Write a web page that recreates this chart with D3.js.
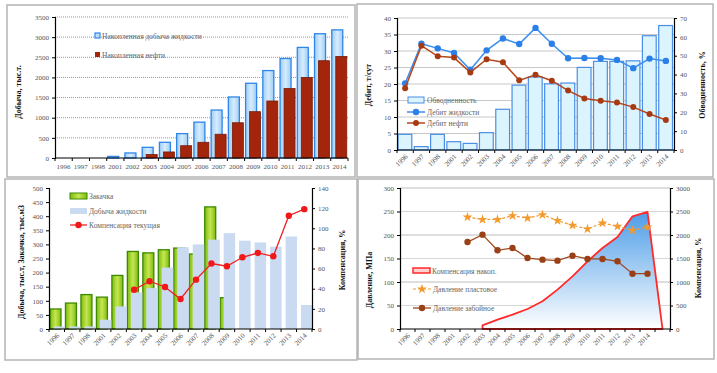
<!DOCTYPE html>
<html>
<head>
<meta charset="utf-8">
<script src="https://cdn.jsdelivr.net/npm/d3@7"></script>
<style>
  body { margin: 0; background: #fff; }
  text { font-family: "Liberation Serif", "DejaVu Serif", serif; }
</style>
</head>
<body>
<script>
var years = ['1996','1997','1998','2001','2002','2003','2004','2005','2006','2007','2008','2009','2010','2011','2012','2013','2014'];
var years4 = years.concat(['']);

// cumulative production, thousand t
var cumLiquid = [0,0,0,40,125,265,390,605,890,1190,1515,1855,2170,2470,2745,3085,3180];
var cumOil = [0,0,0,0,0,85,150,305,390,590,875,1150,1415,1725,2000,2415,2520];

// rates and water cut
var waterCut = [8.3,1.8,8.3,4.4,3.5,9.2,21.6,34.4,38.7,35.1,35.5,43.8,47,47,47.3,60.6,66];
var rateLiquid = [20.2,32.2,30.8,29.4,24.3,30.2,33.8,32.1,37,32.2,27.8,27.9,27.8,27.3,24.8,27.7,27];
var rateOil = [18.7,31.6,28.4,28,23.5,27.5,26.6,21.1,22.8,21,18,15.6,14.9,14.4,13,10.9,9.1];

// injection vs production
var injection = [71,92,122,113,190,275,270,281,287,266,433,111,null,null,null,null,null];
var liquidProd = [9,9,9,33,80,130,145,218,290,300,317,340,313,307,292,328,85];
var compCurrent = [null,null,null,null,null,39,47.4,41.7,29.8,49,65,62.3,71.2,75.5,72.2,112.5,119];

// pressures and cumulative compensation
var compCum = [null,null,null,null,null,78,199,305,425,589,837,1121,1440,1723,1957,2397,2490,0];
var presRes = [null,null,null,null,238,233,233,241,236,243,230.5,220.6,212.8,225.5,218.4,210,217,null];
var presBh = [null,null,null,null,185,200.7,167.4,172.3,151,147.5,145.4,156,149,149,144,117.7,117.7,null];

// keep the category index next to each value
function pts(arr){
  return arr.map(function(v, i){ return {i: i, v: v}; })
    .filter(function(d){ return d.v !== null && d.v > 0; });
}

var svg = d3.select('body').append('svg')
  .attr('width', 717).attr('height', 373);

var defs = svg.append('defs');
var g1 = defs.append('linearGradient').attr('id', 'areaGrad')
  .attr('x1', 0).attr('y1', 0).attr('x2', 0).attr('y2', 1);
g1.append('stop').attr('offset', '0%').attr('stop-color', '#4d9de8');
g1.append('stop').attr('offset', '100%').attr('stop-color', '#ffffff');
var g2 = defs.append('linearGradient').attr('id', 'greenGrad')
  .attr('x1', 0).attr('y1', 0).attr('x2', 1).attr('y2', 0);
g2.append('stop').attr('offset', '0%').attr('stop-color', '#7cbc10');
g2.append('stop').attr('offset', '50%').attr('stop-color', '#c6e650');
g2.append('stop').attr('offset', '100%').attr('stop-color', '#7cbc10');
var g3 = defs.append('linearGradient').attr('id', 'blueGrad')
  .attr('x1', 0).attr('y1', 0).attr('x2', 1).attr('y2', 0);
g3.append('stop').attr('offset', '0%').attr('stop-color', '#9fcdf6');
g3.append('stop').attr('offset', '50%').attr('stop-color', '#d6ecfc');
g3.append('stop').attr('offset', '100%').attr('stop-color', '#9fcdf6');

// panel frames
[[7, 5, 348, 172], [357, 4, 356, 173], [5, 179, 352, 181], [358, 179, 356, 180]].forEach(function(r){
  svg.append('rect')
    .attr('x', r[0]).attr('y', r[1]).attr('width', r[2]).attr('height', r[3])
    .attr('fill', 'none').attr('stroke', '#b4b4b4').attr('stroke-width', 1.5);
});

function yAxis(g, scale, x, step, max, side){
  var ax = (side === 'left' ? d3.axisLeft(scale) : d3.axisRight(scale))
    .tickValues(d3.range(0, max + step / 2, step))
    .tickFormat(d3.format('d'))
    .tickSize(3).tickPadding(3);
  var a = g.append('g').attr('transform', 'translate(' + x + ',0)').call(ax);
  a.select('.domain').attr('stroke', '#000').attr('stroke-width', 1.2);
  a.selectAll('.tick line').attr('stroke', '#000');
  a.selectAll('.tick text').attr('font-size', 7).attr('fill', '#555')
    .attr('font-family', '"Liberation Serif", serif');
  return a;
}

function xAxis(g, x, y0, labels, rotated){
  g.append('line').attr('x1', x.range()[0]).attr('x2', x.range()[1])
    .attr('y1', y0).attr('y2', y0).attr('stroke', '#000').attr('stroke-width', 1.2);
  g.selectAll('.xt').data(x.domain().concat(['end'])).enter().append('line')
    .attr('x1', function(d, i){ return x.range()[0] + i * x.step(); })
    .attr('x2', function(d, i){ return x.range()[0] + i * x.step(); })
    .attr('y1', y0).attr('y2', y0 + 3).attr('stroke', '#000');
  g.selectAll('.xl').data(labels).enter().append('text')
    .attr('font-size', 7).attr('fill', '#555')
    .text(function(d){ return d; })
    .attr('text-anchor', rotated ? 'end' : 'middle')
    .attr('transform', function(d, i){
      var cx = x(x.domain()[i]) + x.bandwidth() / 2;
      return rotated
        ? 'translate(' + (cx + 3) + ',' + (y0 + 7) + ') rotate(-45)'
        : 'translate(' + cx + ',' + (y0 + 11) + ')';
    });
}

function yTitle(g, x, y, label){
  g.append('text').attr('transform', 'translate(' + x + ',' + y + ') rotate(-90)')
    .attr('text-anchor', 'middle').attr('font-size', 8).attr('font-weight', 'bold')
    .attr('fill', '#111').text(label);
}

function legendText(g, x, y, label){
  g.append('text').attr('x', x).attr('y', y + 3).attr('font-size', 7.5)
    .attr('fill', '#666').text(label);
}

// ---------------- Panel 1 ----------------
(function(){
  var g = svg.append('g');
  var x = d3.scaleBand().domain(years).range([55, 348]);
  var y = d3.scaleLinear().domain([0, 3500]).range([158, 17]);
  g.selectAll('.grid').data(d3.range(500, 3501, 500)).enter().append('line')
    .attr('x1', 55).attr('x2', 348).attr('y1', y).attr('y2', y)
    .attr('stroke', '#999').attr('stroke-dasharray', '1,1');
  g.selectAll('.liq').data(pts(cumLiquid)).enter().append('rect')
    .attr('x', function(d){ return x(years[d.i]) + 1; })
    .attr('width', 11)
    .attr('y', function(d){ return y(d.v); })
    .attr('height', function(d){ return y(0) - y(d.v); })
    .attr('fill', 'url(#blueGrad)').attr('stroke', '#2f86ea').attr('stroke-width', 1.3);
  g.selectAll('.oil').data(pts(cumOil)).enter().append('rect')
    .attr('x', function(d){ return x(years[d.i]) + 5; })
    .attr('width', 11)
    .attr('y', function(d){ return y(d.v); })
    .attr('height', function(d){ return y(0) - y(d.v); })
    .attr('fill', '#a3260c').attr('stroke', '#7a1a06').attr('stroke-width', 0.8);
  yAxis(g, y, 55, 500, 3500, 'left');
  xAxis(g, x, 158, years, false);
  yTitle(g, 21, 92, 'Добыча, тыс.т.');
  g.append('rect').attr('x', 95).attr('y', 33).attr('width', 5).attr('height', 5)
    .attr('fill', '#bfe0fb').attr('stroke', '#2f86ea').attr('stroke-width', 1.2);
  legendText(g, 102, 36, 'Накопленная добыча жидкости');
  g.append('rect').attr('x', 95).attr('y', 52).attr('width', 5).attr('height', 5)
    .attr('fill', '#a3260c');
  legendText(g, 102, 55, 'Накопленная нефти');
})();

// ---------------- Panel 2 ----------------
(function(){
  var g = svg.append('g');
  var x = d3.scaleBand().domain(years).range([397, 674]);
  var y = d3.scaleLinear().domain([0, 40]).range([150, 18]);
  var yr = d3.scaleLinear().domain([0, 70]).range([150, 18]);
  g.selectAll('.grid').data(d3.range(5, 41, 5)).enter().append('line')
    .attr('x1', 397).attr('x2', 674).attr('y1', y).attr('y2', y)
    .attr('stroke', '#c8c8c8');
  g.selectAll('.wc').data(pts(waterCut)).enter().append('rect')
    .attr('x', function(d){ return x(years[d.i]) + 1; })
    .attr('width', x.bandwidth() - 2.5)
    .attr('y', function(d){ return yr(d.v); })
    .attr('height', function(d){ return yr(0) - yr(d.v); })
    .attr('fill', '#dcf4fd').attr('stroke', '#4a8fe6').attr('stroke-width', 1.2);
  var cx = function(d){ return x(years[d.i]) + x.bandwidth() / 2; };
  var line = d3.line().x(cx).y(function(d){ return y(d.v); });
  g.append('path').attr('d', line(pts(rateLiquid))).attr('fill', 'none')
    .attr('stroke', '#3d8ff0').attr('stroke-width', 1.5);
  g.selectAll('.pl').data(pts(rateLiquid)).enter().append('circle')
    .attr('cx', cx).attr('cy', function(d){ return y(d.v); }).attr('r', 3.2)
    .attr('fill', '#2b7fe8');
  g.append('path').attr('d', line(pts(rateOil))).attr('fill', 'none')
    .attr('stroke', '#b8461c').attr('stroke-width', 1.5);
  g.selectAll('.po').data(pts(rateOil)).enter().append('circle')
    .attr('cx', cx).attr('cy', function(d){ return y(d.v); }).attr('r', 3)
    .attr('fill', '#a63a12');
  yAxis(g, y, 397, 5, 40, 'left');
  yAxis(g, yr, 674, 10, 70, 'right');
  xAxis(g, x, 150, years, true);
  yTitle(g, 371, 85, 'Дебит, т/сут');
  yTitle(g, 705, 85, 'Обводненность, %');
  g.append('rect').attr('x', 408).attr('y', 97).attr('width', 16).attr('height', 6)
    .attr('fill', '#dcf4fd').attr('stroke', '#4a8fe6');
  legendText(g, 427, 100, 'Обводненность');
  g.append('line').attr('x1', 407).attr('x2', 425).attr('y1', 112).attr('y2', 112)
    .attr('stroke', '#3d8ff0').attr('stroke-width', 1.5);
  g.append('circle').attr('cx', 416).attr('cy', 112).attr('r', 3.2).attr('fill', '#2b7fe8');
  legendText(g, 427, 112, 'Дебит жидкости');
  g.append('line').attr('x1', 407).attr('x2', 425).attr('y1', 123).attr('y2', 123)
    .attr('stroke', '#b8461c').attr('stroke-width', 1.5);
  g.append('circle').attr('cx', 416).attr('cy', 123).attr('r', 3).attr('fill', '#a63a12');
  legendText(g, 427, 123, 'Дебит нефти');
})();

// ---------------- Panel 3 ----------------
(function(){
  var g = svg.append('g');
  var x = d3.scaleBand().domain(years).range([49, 312]);
  var y = d3.scaleLinear().domain([0, 500]).range([329, 188]);
  var yr = d3.scaleLinear().domain([0, 140]).range([329, 188]);
  g.selectAll('.inj').data(pts(injection)).enter().append('rect')
    .attr('x', function(d){ return x(years[d.i]) + 1; })
    .attr('width', 11)
    .attr('y', function(d){ return y(d.v); })
    .attr('height', function(d){ return y(0) - y(d.v); })
    .attr('fill', 'url(#greenGrad)').attr('stroke', '#3d8a00').attr('stroke-width', 1.3);
  g.selectAll('.prod').data(pts(liquidProd)).enter().append('rect')
    .attr('x', function(d){ return x(years[d.i]) + 4.5; })
    .attr('width', 11.5)
    .attr('y', function(d){ return y(d.v); })
    .attr('height', function(d){ return y(0) - y(d.v); })
    .attr('fill', '#c9daf1');
  var cx = function(d){ return x(years[d.i]) + x.bandwidth() / 2; };
  var line = d3.line().x(cx).y(function(d){ return yr(d.v); });
  g.append('path').attr('d', line(pts(compCurrent))).attr('fill', 'none')
    .attr('stroke', '#f02020').attr('stroke-width', 1.3);
  g.selectAll('.pc').data(pts(compCurrent)).enter().append('circle')
    .attr('cx', cx).attr('cy', function(d){ return yr(d.v); }).attr('r', 3.2).attr('fill', '#f01818');
  yAxis(g, y, 49, 50, 500, 'left');
  yAxis(g, yr, 312, 20, 140, 'right');
  xAxis(g, x, 329, years, true);
  yTitle(g, 24, 262, 'Добыча, тыс.т, Закачка, тыс.м3');
  yTitle(g, 345, 260, 'Компенсация, %');
  g.append('rect').attr('x', 70).attr('y', 193).attr('width', 17).attr('height', 6)
    .attr('fill', 'url(#greenGrad)').attr('stroke', '#3d8a00');
  legendText(g, 89, 196, 'Закачка');
  g.append('rect').attr('x', 70).attr('y', 208).attr('width', 17).attr('height', 6)
    .attr('fill', '#c9daf1');
  legendText(g, 89, 211, 'Добыча жидкости');
  g.append('line').attr('x1', 70).attr('x2', 87).attr('y1', 225).attr('y2', 225)
    .attr('stroke', '#f02020').attr('stroke-width', 1.3);
  g.append('circle').attr('cx', 78.5).attr('cy', 225).attr('r', 3.2).attr('fill', '#f01818');
  legendText(g, 89, 225, 'Компенсация текущая');
})();

// ---------------- Panel 4 ----------------
(function(){
  var g = svg.append('g');
  var x = d3.scaleBand().domain(years4).range([400, 670]);
  var y = d3.scaleLinear().domain([0, 300]).range([329, 188]);
  var yr = d3.scaleLinear().domain([0, 3000]).range([329, 188]);
  g.selectAll('.grid').data(d3.range(50, 301, 50)).enter().append('line')
    .attr('x1', 400).attr('x2', 670).attr('y1', y).attr('y2', y)
    .attr('stroke', function(d, i){ return i % 2 ? '#bdbdbd' : '#d6d6d6'; });
  var cx = function(d){ return x(years4[d.i]) + x.bandwidth() / 2; };
  var compPts = compCum.map(function(v, i){ return {i: i, v: v}; })
    .filter(function(d){ return d.v !== null; });
  var area = d3.area().x(cx).y0(yr(0)).y1(function(d){ return yr(d.v); });
  g.append('path').attr('d', area(compPts))
    .attr('fill', 'url(#areaGrad)').attr('stroke', '#ff2a2a').attr('stroke-width', 1.8)
    .attr('stroke-linejoin', 'round');
  var line = d3.line().x(cx).y(function(d){ return y(d.v); });
  g.append('path').attr('d', line(pts(presRes))).attr('fill', 'none')
    .attr('stroke', '#f39a2c').attr('stroke-width', 1.2).attr('stroke-dasharray', '3,2');
  var star = d3.symbol().type(d3.symbolStar).size(30);
  g.selectAll('.pr').data(pts(presRes)).enter().append('path')
    .attr('d', star)
    .attr('transform', function(d){ return 'translate(' + cx(d) + ',' + y(d.v) + ')'; })
    .attr('fill', '#f39a2c');
  g.append('path').attr('d', line(pts(presBh))).attr('fill', 'none')
    .attr('stroke', '#a0481c').attr('stroke-width', 1.3);
  g.selectAll('.pb').data(pts(presBh)).enter().append('circle')
    .attr('cx', cx).attr('cy', function(d){ return y(d.v); }).attr('r', 3.2).attr('fill', '#9a4016');
  yAxis(g, y, 400, 50, 300, 'left');
  yAxis(g, yr, 670, 500, 3000, 'right');
  xAxis(g, x, 329, years, true);
  yTitle(g, 372, 280, 'Давление, МПа');
  yTitle(g, 701, 268, 'Компенсация, %');
  g.append('rect').attr('x', 413).attr('y', 268).attr('width', 17).attr('height', 5)
    .attr('fill', '#ffd0d0').attr('stroke', '#ff2a2a').attr('stroke-width', 1.5);
  legendText(g, 432, 271, 'Компенсация накоп.');
  g.append('line').attr('x1', 413).attr('x2', 431).attr('y1', 289).attr('y2', 289)
    .attr('stroke', '#f39a2c').attr('stroke-width', 1.2).attr('stroke-dasharray', '3,2');
  g.append('path').attr('d', star).attr('transform', 'translate(422,289)').attr('fill', '#f39a2c');
  legendText(g, 433, 289, 'Давление пластовое');
  g.append('line').attr('x1', 413).attr('x2', 431).attr('y1', 308).attr('y2', 308)
    .attr('stroke', '#a0481c').attr('stroke-width', 1.3);
  g.append('circle').attr('cx', 422).attr('cy', 308).attr('r', 3.2).attr('fill', '#9a4016');
  legendText(g, 433, 308, 'Давление забойное');
})();
</script>
</body>
</html>
